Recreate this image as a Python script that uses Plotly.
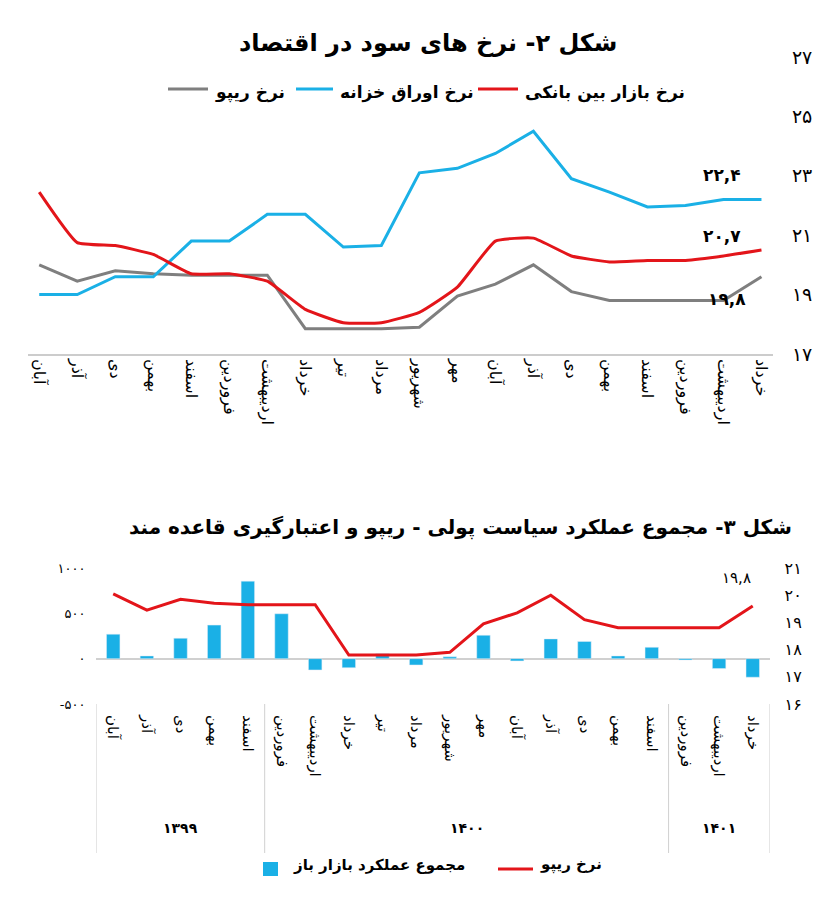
import plotly.graph_objects as go

def fa(s):
    return ''.join('۰۱۲۳۴۵۶۷۸۹'[int(c)] if c.isdigit() else c for c in str(s))

months = ["آبان","آذر","دی","بهمن","اسفند","فروردین","اردیبهشت","خرداد","تیر","مرداد",
          "شهریور","مهر","آبان","آذر","دی","بهمن","اسفند","فروردین","اردیبهشت","خرداد"]
year_labels = ["1399","1400","1401"]
year_counts = [5,12,3]
treasury = [19.0,19.0,19.6,19.6,20.8,20.8,21.7,21.7,20.6,20.65,23.1,23.25,23.75,24.5,22.9,22.45,21.95,22.0,22.2,22.2]
interbank = [22.45,20.75,20.65,20.35,19.7,19.7,19.45,18.5,18.05,18.05,18.4,19.25,20.8,20.9,20.3,20.1,20.15,20.15,20.3,20.5]
repo = [20.0,19.45,19.8,19.7,19.65,19.65,19.65,17.85,17.85,17.85,17.9,18.95,19.35,20.0,19.1,18.8,18.8,18.8,18.8,19.6]
openmarket = [270,30,225,370,855,495,-125,-100,55,-70,20,258,-25,218,190,30,125,-15,-110,-205]
repo2 = [20.05,19.45,19.85,19.7,19.65,19.65,19.65,17.8,17.8,17.8,17.9,18.95,19.35,20.0,19.1,18.8,18.8,18.8,18.8,19.6]

RED="#e3151a"; BLUE="#1ab0e6"; GRAY="#7f7f7f"
F="DejaVu Sans"
idx=list(range(20))

fig=go.Figure()
fig.add_trace(go.Scatter(x=idx,y=repo,mode="lines",line=dict(color=GRAY,width=3),xaxis="x",yaxis="y"))
fig.add_trace(go.Scatter(x=idx,y=treasury,mode="lines",line=dict(color=BLUE,width=3),xaxis="x",yaxis="y"))
fig.add_trace(go.Scatter(x=idx,y=interbank,mode="lines",line=dict(color=RED,width=3,shape="spline",smoothing=0.4),xaxis="x",yaxis="y"))
fig.add_trace(go.Bar(x=idx,y=openmarket,marker_color=BLUE,width=0.4,xaxis="x2",yaxis="y2"))
fig.add_trace(go.Scatter(x=idx,y=repo2,mode="lines",line=dict(color=RED,width=3),xaxis="x2",yaxis="y3"))

fig.update_layout(
    width=826,height=900,margin=dict(l=0,r=0,t=0,b=0,autoexpand=False),showlegend=False,
    paper_bgcolor="white",plot_bgcolor="white",font=dict(family=F,color="black",size=15),
    xaxis=dict(domain=[0.024,0.926],range=[-0.3,19.3],tickvals=idx,ticktext=months,tickangle=90,
               showgrid=False,showline=True,linecolor="#cccccc",linewidth=1.5,anchor="y",automargin=False,
               tickfont=dict(size=16,family=F)),
    yaxis=dict(domain=[0.6156,0.9456],range=[17,27],side="right",tickvals=[17,19,21,23,25,27],
               ticktext=[fa(v) for v in [17,19,21,23,25,27]],showgrid=False,zeroline=False,automargin=False,
               anchor="x",tickfont=dict(size=19),ticklabelstandoff=18),
    xaxis2=dict(domain=[0.107,0.922],range=[-0.5,19.5],tickvals=idx,ticktext=months,tickangle=90,
                anchor="y2",showgrid=False,automargin=False,tickfont=dict(size=15),ticklabelstandoff=10),
    yaxis2=dict(domain=[0.2267,0.3778],range=[-500,1000],tickvals=[-500,0,500,1000],
                ticktext=["-"+fa(500),fa(0),fa(500),fa(1000)],showgrid=False,zeroline=True,automargin=False,
                zerolinecolor="#d0d0d0",zerolinewidth=1.5,anchor="x2",tickfont=dict(size=13),ticklabelstandoff=10),
    yaxis3=dict(range=[16,21],overlaying="y2",side="right",tickvals=[16,17,18,19,20,21],automargin=False,
                ticktext=[fa(v) for v in [16,17,18,19,20,21]],showgrid=False,zeroline=False,
                anchor="x2",tickfont=dict(size=16),ticklabelstandoff=14),
)

def ann(x,y,t,size=15,**k):
    fig.add_annotation(x=x/826,y=1-y/900,xref="paper",yref="paper",text=t,showarrow=False,
                       font=dict(size=size,family=F,color="black"),**k)

start=0
bounds=[-0.5]
for lab,cnt in zip(year_labels,year_counts):
    mid=start+(cnt-1)/2
    fig.add_annotation(x=mid,y=1-830/900,xref="x2",yref="paper",text="<b>"+fa(lab)+"</b>",showarrow=False,
                       font=dict(size=14,family=F,color="black"))
    start+=cnt
    bounds.append(start-0.5)
for b in bounds:
    fig.add_shape(type="line",x0=b,x1=b,xref="x2",yref="paper",y0=1-845/900,y1=1-696/900,
                  line=dict(color="#d0d0d0",width=1))

ann(420,19,"<b>شکل ۲- نرخ های سود در اقتصاد</b>",24)
ann(452,519,"<b>شکل ۳- مجموع عملکرد سیاست پولی - ریپو و اعتبارگیری قاعده مند</b>",20)
ann(735,155,"<b>"+fa("22,4")+"</b>",17)
ann(735,216,"<b>"+fa("20,7")+"</b>",17)
ann(740,279,"<b>"+fa("19,8")+"</b>",17)
ann(745,570,fa("19,8"),15)
def leg(x0,x1,y,ty,t,c,size):
    fig.add_shape(type="line",x0=x0/826,x1=x1/826,y0=1-y/900,y1=1-y/900,xref="paper",yref="paper",
                  line=dict(color=c,width=3))
    ann(x1+5,ty,"<b>"+t+"</b>",size,xanchor="left")
leg(470,510,81,72,"نرخ بازار بین بانکی",RED,17)
leg(288,325,81,72,"نرخ اوراق خزانه",BLUE,17)
leg(160,200,81,72,"نرخ ریپو",GRAY,17)
fig.add_shape(type="rect",x0=255/826,x1=270/826,y0=1-854/900,y1=1-868/900,xref="paper",yref="paper",
              fillcolor=BLUE,line_width=0)
ann(283,868,"<b>مجموع عملکرد بازار باز</b>",15,xanchor="left")
leg(490,525,861,868,"نرخ ریپو",RED,15)
fig.write_html("out.html")
